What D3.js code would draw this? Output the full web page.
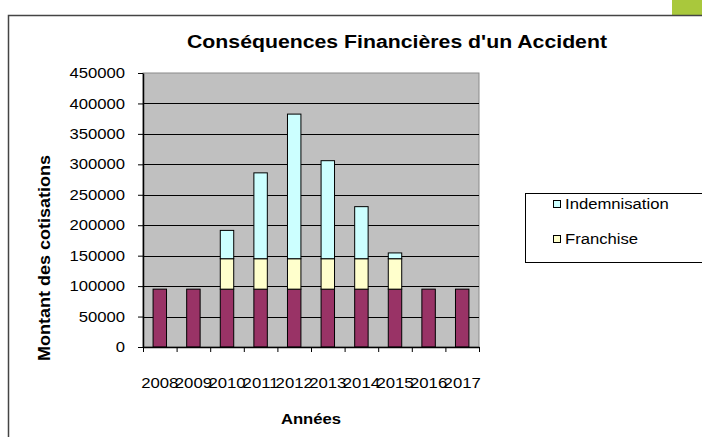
<!DOCTYPE html>
<html>
<head>
<meta charset="utf-8">
<script src="https://cdn.jsdelivr.net/npm/d3@7"></script>
<style>
  body { margin: 0; background: #fff; }
  text { font-family: "Liberation Sans", Arial, sans-serif; fill: #000; }
</style>
</head>
<body>
<div id="chart"></div>
<script>
const WIDTH = 702;
const HEIGHT = 437;

// data
const annees = ["2008","2009","2010","2011","2012","2013","2014","2015","2016","2017"];
const cotisations = [95000,95000,95000,95000,95000,95000,95000,95000,95000,95000];
const franchise = [0,0,50000,50000,50000,50000,50000,50000,0,0];
const indemnisation = [0,0,46500,141000,237500,161000,85500,9500,0,0];
const yTicks = [0,50000,100000,150000,200000,250000,300000,350000,400000,450000];
const legendItems = [["Indemnisation","#ccffff"],["Franchise","#ffffcc"]];

const SX = 1.15; // the original text looks stretched sideways

const svg = d3.select("#chart").append("svg")
    .attr("width",WIDTH)
    .attr("height",HEIGHT);

// frame and the little green corner
svg.append("rect").attr("x",672).attr("y",0).attr("width",30).attr("height",15).attr("fill","#a9c83c");
svg.append("path").attr("d","M8.5,437 V15.5 H702").attr("fill","none").attr("stroke","#444").attr("stroke-width",1.5);

const plotLeft = 143, plotRight = 479, plotTop = 73, plotBottom = 347;

const x = d3.scaleBand().domain(annees).range([plotLeft,plotRight]).paddingInner(0.6).paddingOuter(0.3);
const xEdge = d3.scaleLinear().domain([0,annees.length]).range([plotLeft,plotRight]);
const y = d3.scaleLinear().domain([0,450000]).range([plotBottom,plotTop]);

// plot area
svg.append("rect").attr("x",plotLeft).attr("y",plotTop).attr("width",plotRight-plotLeft).attr("height",plotBottom-plotTop)
    .attr("fill","#c0c0c0").attr("stroke","#8a8a8a").attr("stroke-width",1);

svg.append("g").selectAll("line")
    .data(yTicks.filter(d => d > 0 && d < 450000))
    .enter().append("line")
    .attr("x1",plotLeft).attr("x2",plotRight)
    .attr("y1",d => Math.round(y(d))+0.5).attr("y2",d => Math.round(y(d))+0.5)
    .attr("stroke","#000").attr("stroke-width",1);

// stacked bars
const stack = d3.stack().keys(["cotisations","franchise","indemnisation"]);
const rows = annees.map((a,i) => ({annee:a, cotisations:cotisations[i], franchise:franchise[i], indemnisation:indemnisation[i]}));
const colors = {cotisations:"#993366", franchise:"#ffffcc", indemnisation:"#ccffff"};

svg.append("g").selectAll("g")
    .data(stack(rows))
    .enter().append("g")
    .attr("fill",s => colors[s.key])
    .selectAll("rect")
    .data(s => s.filter(d => d[1]-d[0] > 0))
    .enter().append("rect")
    .attr("x",d => x(d.data.annee))
    .attr("width",x.bandwidth())
    .attr("y",d => y(d[1]))
    .attr("height",d => y(d[0])-y(d[1]))
    .attr("stroke","#000").attr("stroke-width",1);

// axes
const yAxis = svg.append("g")
    .attr("transform",`translate(${plotLeft},0)`)
    .call(d3.axisLeft(y).tickValues(yTicks).tickSize(5).tickPadding(6).tickSizeOuter(0).tickFormat(d3.format("d")));
yAxis.selectAll("text").style("font-size","14.5px").attr("x",-18/SX).attr("transform",`scale(${SX},1)`);
yAxis.select(".domain").attr("stroke","#000").attr("stroke-width",1.5);
yAxis.selectAll(".tick line").attr("stroke","#000");

const xTicks = svg.append("g")
    .attr("transform",`translate(0,${plotBottom})`)
    .call(d3.axisBottom(xEdge).tickValues(d3.range(annees.length+1)).tickSize(5).tickFormat("").tickSizeOuter(0));
xTicks.select(".domain").attr("stroke","#000").attr("stroke-width",1.5);
xTicks.selectAll(".tick line").attr("stroke","#000");

const xLabels = svg.append("g")
    .attr("transform",`translate(0,${plotBottom})`)
    .call(d3.axisBottom(x).tickSize(0).tickPadding(28));
xLabels.select(".domain").remove();
xLabels.selectAll("text").style("font-size","15.5px").attr("transform","scale(1.08,1)").attr("dy",0).attr("y",41);

// titles
svg.append("text")
    .attr("x",397).attr("y",48)
    .attr("text-anchor","middle")
    .attr("textLength",420).attr("lengthAdjust","spacingAndGlyphs")
    .style("font-size","18px").style("font-weight","bold")
    .text("Conséquences Financières d'un Accident");

svg.append("text")
    .attr("transform",`translate(311,424) scale(${SX},1)`)
    .attr("text-anchor","middle")
    .style("font-size","14.5px").style("font-weight","bold")
    .text("Années");

svg.append("text")
    .attr("transform",`translate(50,258) rotate(-90)`)
    .attr("text-anchor","middle")
    .attr("textLength",206).attr("lengthAdjust","spacingAndGlyphs")
    .style("font-size","16px").style("font-weight","bold")
    .text("Montant des cotisations");

// legend
const legend = svg.append("g");
legend.append("rect").attr("x",525.5).attr("y",193.5).attr("width",200).attr("height",69)
    .attr("fill","#fff").attr("stroke","#000").attr("stroke-width",1);
const item = legend.selectAll(".item")
    .data(legendItems)
    .enter().append("g")
    .attr("class","item")
    .attr("transform",(d,i) => `translate(553,${200+i*35})`);
item.append("rect").attr("x",0.5).attr("y",0.5).attr("width",7).attr("height",7)
    .attr("fill",d => d[1]).attr("stroke","#000").attr("stroke-width",1);
item.append("text")
    .attr("transform",`translate(12,9) scale(${SX},1)`)
    .style("font-size","14.5px")
    .text(d => d[0]);
</script>
</body>
</html>
